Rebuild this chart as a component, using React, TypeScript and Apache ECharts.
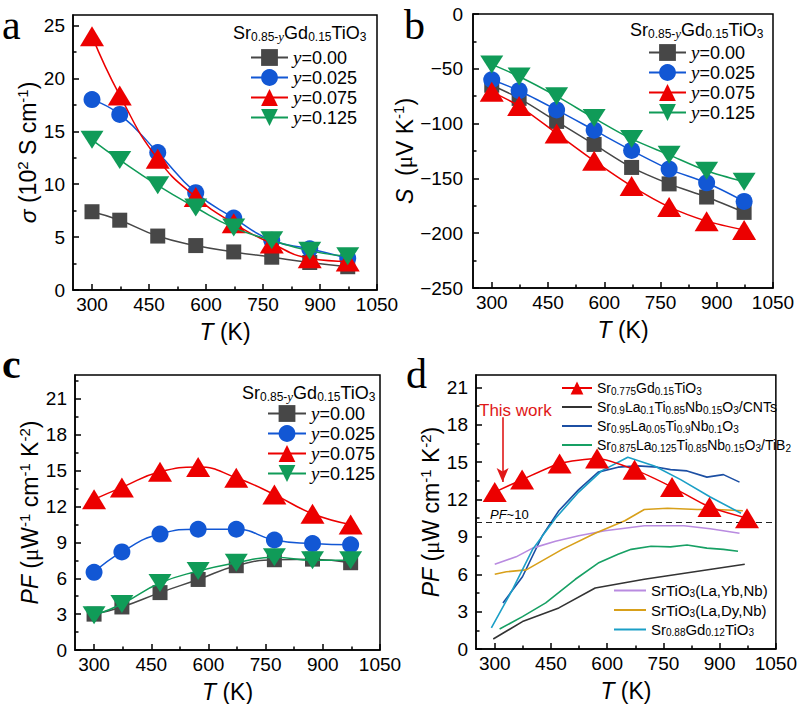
import React, { useEffect, useRef } from 'react';
import * as echarts from 'echarts';

// ---------- data ----------
const T = [300, 373, 473, 573, 673, 773, 873, 973];
const yNames = ['y=0.00', 'y=0.025', 'y=0.075', 'y=0.125'];

// panel a: sigma (10^2 S/cm)
const sigma000 = [7.4, 6.6, 5.1, 4.2, 3.6, 3.1, 2.6, 2.2];
const sigma025 = [18.0, 16.6, 13.0, 9.2, 6.8, 4.7, 3.9, 3.0];
const sigma075 = [24.0, 18.4, 12.4, 8.8, 6.3, 4.4, 3.0, 2.7];
const sigma125 = [14.2, 12.3, 9.9, 7.8, 5.9, 4.7, 3.7, 3.2];

// panel b: Seebeck (uV/K)
const S000 = [-65, -77, -98, -119, -140, -155, -167, -181];
const S025 = [-60, -70, -87.5, -106, -124.5, -141.5, -154, -171];
const S075 = [-71, -84, -109, -134, -157, -176, -189, -197];
const S125 = [-46, -57, -75, -95, -114, -128.5, -143, -153];

// panel c: PF
const PF000 = [3.0, 3.6, 4.8, 5.9, 7.05, 7.55, 7.6, 7.3];
const PF025 = [6.5, 8.2, 9.7, 10.1, 10.1, 9.2, 8.9, 8.8];
const PF075 = [12.6, 13.6, 14.9, 15.3, 14.4, 13.0, 11.4, 10.5];
const PF125 = [2.9, 3.85, 5.6, 6.6, 7.3, 7.75, 7.5, 7.5];

// panel d: literature comparison
const dNames = [
  'Sr0.775Gd0.15TiO3',
  'Sr0.9La0.1Ti0.85Nb0.15O3/CNTs',
  'Sr0.95La0.05Ti0.9Nb0.1O3',
  'Sr0.875La0.125Ti0.85Nb0.15O3/TiB2',
  'SrTiO3(La,Yb,Nb)',
  'SrTiO3(La,Dy,Nb)',
  'Sr0.88Gd0.12TiO3',
];
const dCNTs = [[296, 0.8], [374, 2.2], [471, 3.3], [568, 4.9], [699, 5.6], [967, 6.8]];
const dLaNb = [[322, 3.7], [374, 5.8], [427, 9.1], [471, 11.1], [524, 12.8], [576, 14.2], [629, 14.6], [682, 14.7], [734, 14.6], [769, 14.4], [813, 14.3], [866, 13.8], [910, 14.0], [953, 13.4]];
const dTiB2 = [[313, 1.6], [374, 2.6], [436, 3.7], [515, 5.6], [576, 6.9], [629, 7.6], [664, 8.0], [717, 8.25], [769, 8.2], [813, 8.35], [866, 8.1], [910, 8.0], [949, 7.85]];
const dYb = [[300, 6.8], [357, 7.4], [401, 8.1], [462, 8.65], [524, 9.1], [594, 9.5], [699, 9.9], [805, 9.9], [875, 9.65], [953, 9.3]];
const dDy = [[300, 6.0], [331, 6.2], [384, 6.35], [480, 8.0], [568, 9.3], [647, 10.3], [699, 11.2], [761, 11.3], [840, 11.2], [892, 11.2], [962, 11.1]];
const dGd012 = [[291, 1.7], [348, 4.8], [401, 8.0], [462, 10.5], [524, 12.6], [585, 14.3], [655, 15.4], [726, 14.7], [796, 13.6], [875, 12.2], [957, 10.9]];
const pfRef = 10.15;
const arrowT = 321;
const arrowFrom = 18.6;
const arrowTo = 13.4;

// ticks
const xMajor = [300, 450, 600, 750, 900, 1050];
const xMinor = [375, 525, 675, 825, 975];
const yMajorA = [0, 5, 10, 15, 20, 25];
const yMinorA = [2.5, 7.5, 12.5, 17.5, 22.5];
const yMajorB = [-250, -200, -150, -100, -50, 0];
const yMinorB = [-225, -175, -125, -75, -25];
const yMajorPF = [0, 3, 6, 9, 12, 15, 18, 21];
const yMinorPF = [1.5, 4.5, 7.5, 10.5, 13.5, 16.5, 19.5, 22.5];
const yMinorPFd = [1.5, 4.5, 7.5, 10.5, 13.5, 16.5, 19.5];

// ---------- styles ----------
const SANS = 'Liberation Sans';
const SERIF = 'Liberation Serif';
const C_BLACK = '#474747';
const C_BLUE = '#1257d4';
const C_RED = '#ec0000';
const C_GREEN = '#109b58';
const colors4 = [C_BLACK, C_BLUE, C_RED, C_GREEN];
const symbols4 = ['rect', 'circle', 'triangle', 'triangle'];
const sizes4: any[] = [15, 17, [24, 20], [23, 18]];
const rot4 = [0, 0, 0, 180];
const dColors = [C_RED, '#333333', '#1c4fa3', '#17a064', '#b98be0', '#d8a01a', '#1b9fc6'];

const nameRich = {
  i: { fontFamily: SANS, fontStyle: 'italic', fontSize: 23, lineHeight: 27, color: '#000' },
  n: { fontFamily: SANS, fontSize: 23, lineHeight: 27, color: '#000' },
  mu: { fontFamily: SERIF, fontSize: 23, lineHeight: 27, color: '#000' },
  sup: { fontFamily: SANS, fontSize: 15, lineHeight: 15, verticalAlign: 'top', color: '#000' },
};

function subRich(name: string): string {
  const parts = name.split(/(\d+(?:\.\d+)?)/);
  return parts
    .map((p, i) => (p === '' ? '' : i % 2 === 1 ? `{s|${p}}` : `{n|${p}}`))
    .join('');
}

const fmtMinus = (v: number) => String(v).replace('-', '\u2212');
const fmtPlain = (v: number) => String(v);

function xAxes(gi: number) {
  return [
    {
      type: 'value', gridIndex: gi, min: 250, max: 1050, position: 'bottom',
      axisLine: { show: true, onZero: false, lineStyle: { color: '#000', width: 1.5 } },
      axisTick: { show: true, inside: true, length: 6, lineStyle: { color: '#000', width: 1.5 }, customValues: xMajor },
      axisLabel: { show: true, customValues: xMajor, color: '#000', fontSize: 19, fontFamily: SANS, margin: 5, formatter: fmtPlain },
      splitLine: { show: false },
      name: '{i|T}{n| (K)}', nameLocation: 'middle', nameGap: 28,
      nameTextStyle: { rich: nameRich },
    },
    {
      type: 'value', gridIndex: gi, min: 250, max: 1050, position: 'bottom',
      axisLine: { show: false, onZero: false },
      axisTick: { show: true, inside: true, length: 3.5, lineStyle: { color: '#000', width: 1.5 }, customValues: xMinor },
      axisLabel: { show: false },
      splitLine: { show: false },
    },
  ];
}

function yAxes(gi: number, min: number, max: number, major: number[], minor: number[], name: string, gap: number, margin: number) {
  return [
    {
      type: 'value', gridIndex: gi, min, max, position: 'left',
      axisLine: { show: true, onZero: false, lineStyle: { color: '#000', width: 1.5 } },
      axisTick: { show: true, inside: true, length: 6, lineStyle: { color: '#000', width: 1.5 }, customValues: major },
      axisLabel: { show: true, customValues: major, color: '#000', fontSize: 19, fontFamily: SANS, margin, formatter: fmtMinus },
      splitLine: { show: false },
      name, nameLocation: 'middle', nameGap: gap, nameRotate: 90,
      nameTextStyle: { rich: nameRich },
    },
    {
      type: 'value', gridIndex: gi, min, max, position: 'left',
      axisLine: { show: false, onZero: false },
      axisTick: { show: true, inside: true, length: 3.5, lineStyle: { color: '#000', width: 1.5 }, customValues: minor },
      axisLabel: { show: false },
      splitLine: { show: false },
    },
  ];
}

function markerSeries(panel: number, values: number[][], smooth: number) {
  return values.map((vals, k) => ({
    type: 'line',
    name: yNames[k],
    xAxisIndex: panel * 2,
    yAxisIndex: panel * 2,
    data: T.map((t, j) => [t, vals[j]]),
    smooth,
    symbol: symbols4[k],
    symbolSize: sizes4[k],
    symbolRotate: rot4[k],
    itemStyle: { color: colors4[k] },
    lineStyle: { color: colors4[k], width: 1.5 },
    z: 2 + k,
  }));
}

const yLegendRich = {
  yi: { fontFamily: SERIF, fontStyle: 'italic', fontSize: 19, lineHeight: 20, color: '#000' },
  n: { fontFamily: SANS, fontSize: 18, lineHeight: 20, color: '#000' },
};
const dLegendRichTop = {
  n: { fontFamily: SANS, fontSize: 14, lineHeight: 16, color: '#000' },
  s: { fontFamily: SANS, fontSize: 10, lineHeight: 10, verticalAlign: 'bottom', color: '#000' },
};
const dLegendRichBottom = {
  n: { fontFamily: SANS, fontSize: 15, lineHeight: 16, color: '#000' },
  s: { fontFamily: SANS, fontSize: 10, lineHeight: 10, verticalAlign: 'bottom', color: '#000' },
};

function yLegend(left: number, top: number, itemWidth: number) {
  return {
    data: yNames, orient: 'vertical', left, top, itemWidth, itemHeight: 21, itemGap: 1, padding: 0,
    selectedMode: false,
    formatter: (name: string) => `{yi|y}{n|${name.slice(1)}}`,
    textStyle: { rich: yLegendRich },
  };
}

const titleRich = {
  n: { fontFamily: SANS, fontSize: 18, lineHeight: 20, color: '#000' },
  s: { fontFamily: SANS, fontSize: 12, lineHeight: 11, verticalAlign: 'bottom', color: '#000' },
  si: { fontFamily: SERIF, fontStyle: 'italic', fontSize: 13, lineHeight: 11, verticalAlign: 'bottom', color: '#000' },
};
const titleText = '{n|Sr}{s|0.85-}{si|y}{n|Gd}{s|0.15}{n|TiO}{s|3}';

function legendTitle(x: number, y: number) {
  return { type: 'text', x, y, style: { text: titleText, rich: titleRich, textVerticalAlign: 'middle', fill: '#000' } };
}
function letter(t: string, x: number, y: number, bold = false) {
  return {
    type: 'text', x, y,
    style: { text: t, fontFamily: SERIF, fontSize: 42, fontWeight: bold ? 'bold' : 'normal', fill: '#000', textVerticalAlign: 'middle' },
  };
}

export default function App() {
  const ref = useRef<HTMLDivElement>(null);
  useEffect(() => {
    if (!ref.current) return;
    const chart = echarts.init(ref.current, undefined, { renderer: 'svg' });
    const grids = [
      { left: 73, top: 15, width: 304, height: 275 },
      { left: 473, top: 14, width: 300, height: 274 },
      { left: 75, top: 375, width: 305, height: 275 },
      { left: 476, top: 375, width: 304, height: 274 },
    ].map((g) => ({ ...g, show: true, borderColor: '#000', borderWidth: 1.5, backgroundColor: 'transparent', containLabel: false }));

    const dLines = [dCNTs, dLaNb, dTiB2, dYb, dDy, dGd012].map((d, i) => ({
      type: 'line',
      name: dNames[i + 1],
      xAxisIndex: 6,
      yAxisIndex: 6,
      data: d,
      symbol: 'none',
      showSymbol: false,
      lineStyle: { color: dColors[i + 1], width: 1.6 },
      itemStyle: { color: dColors[i + 1] },
      z: 2,
    }));

    const option: any = {
      animation: false,
      backgroundColor: '#fff',
      grid: grids,
      xAxis: [...xAxes(0), ...xAxes(1), ...xAxes(2), ...xAxes(3)],
      yAxis: [
        ...yAxes(0, 0, 26, yMajorA, yMinorA, '{i|σ}{n| (10}{sup|2}{n| S cm}{sup|-1}{n|)}', 28, 8),
        ...yAxes(1, -250, 0, yMajorB, yMinorB, '{i|S}{n|  (}{mu|μ}{n|V K}{sup|-1}{n|)}', 50, 10),
        ...yAxes(2, 0, 23, yMajorPF, yMinorPF, '{i|PF}{n| (}{mu|μ}{n|W}{sup|-1}{n| cm}{sup|-1}{n| K}{sup|-2}{n|)}', 28, 8),
        ...yAxes(3, 0, 22, yMajorPF, yMinorPFd, '{i|PF}{n| (}{mu|μ}{n|W cm}{sup|-1}{n| K}{sup|-2}{n|)}', 29, 8),
      ],
      legend: [
        yLegend(250, 48, 37),
        yLegend(648, 43, 37),
        yLegend(267, 404, 38),
        {
          data: dNames.slice(0, 4).map((n, i) => (i === 0 ? { name: n } : { name: n, itemStyle: { opacity: 0 } })),
          orient: 'vertical', left: 561, top: 381, itemWidth: 30, itemHeight: 16, itemGap: 4, padding: 0,
          selectedMode: false,
          formatter: (name: string) => subRich(name),
          textStyle: { rich: dLegendRichTop },
        },
        {
          data: dNames.slice(4).map((n) => ({ name: n, itemStyle: { opacity: 0 } })),
          orient: 'vertical', left: 613, top: 583, itemWidth: 32, itemHeight: 16, itemGap: 4, padding: 0,
          selectedMode: false,
          formatter: (name: string) => subRich(name),
          textStyle: { rich: dLegendRichBottom },
        },
      ],
      series: [
        ...markerSeries(0, [sigma000, sigma025, sigma075, sigma125], 0.5),
        ...markerSeries(1, [S000, S025, S075, S125], 0.3),
        ...markerSeries(2, [PF000, PF025, PF075, PF125], 0.5),
        ...dLines,
        {
          type: 'line',
          name: dNames[0],
          xAxisIndex: 6,
          yAxisIndex: 6,
          data: T.map((t, j) => [t, PF075[j]]),
          smooth: 0.2,
          symbol: 'triangle',
          symbolSize: [24, 20],
          itemStyle: { color: C_RED },
          lineStyle: { color: C_RED, width: 1.5 },
          z: 5,
          markLine: {
            silent: true,
            symbol: ['none', 'none'],
            label: { show: false },
            data: [
              { yAxis: pfRef, lineStyle: { type: [6, 4], color: '#222', width: 1.2 } },
              [
                { coord: [arrowT, arrowFrom], symbol: 'none', lineStyle: { type: 'solid', color: '#e01818', width: 1.6 } },
                { coord: [arrowT, arrowTo], symbol: 'arrow', symbolSize: [9, 14], lineStyle: { type: 'solid', color: '#e01818', width: 1.6 } },
              ],
            ],
          },
        },
      ],
      graphic: [
        legendTitle(233, 33),
        legendTitle(630, 30),
        legendTitle(242, 393),
        letter('a', 2, 25),
        letter('b', 404, 25),
        letter('c', 2, 364, true),
        letter('d', 406, 374),
        { type: 'text', x: 479, y: 410, style: { text: 'This work', fontFamily: SANS, fontSize: 17, fill: '#e01818', textVerticalAlign: 'middle' } },
        {
          type: 'text', x: 490, y: 514,
          style: {
            text: '{i|PF}{n|~10}',
            rich: {
              i: { fontFamily: SANS, fontStyle: 'italic', fontSize: 13, color: '#000' },
              n: { fontFamily: SANS, fontSize: 13, color: '#000' },
            },
            textVerticalAlign: 'middle',
          },
        },
      ],
    };
    chart.setOption(option);
    return () => chart.dispose();
  }, []);
  return <div ref={ref} style={{ width: 800, height: 704, position: 'absolute', left: 0, top: 0 }} />;
}
